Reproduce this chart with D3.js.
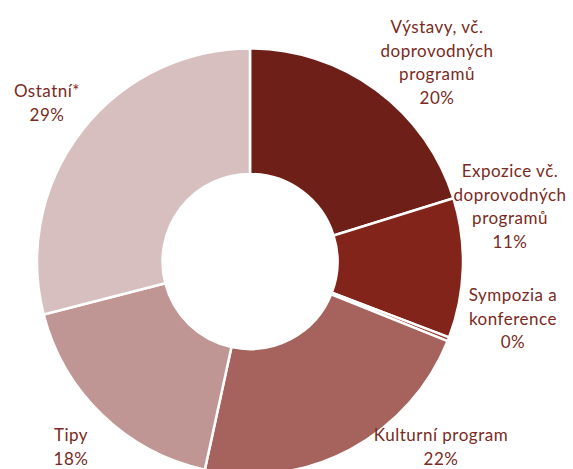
<!DOCTYPE html>
<html>
<head>
<meta charset="utf-8">
<script src="https://cdn.jsdelivr.net/npm/d3@7"></script>
<style>
  body { margin: 0; background: #fff; }
  .lbl { font-family: Lato, "Open Sans", sans-serif; font-size: 17px; fill: #7a2a22; letter-spacing: 0.5px; }
</style>
</head>
<body>
<svg id="chart"></svg>
<script>
// slices, clockwise from 12 o'clock
const categories = [
  ["Výstavy, vč.", "doprovodných", "programů"],
  ["Expozice vč.", "doprovodných", "programů"],
  ["Sympozia a", "konference"],
  ["Kulturní program"],
  ["Tipy"],
  ["Ostatní*"]
];
const values = [20.2, 10.6, 0.3, 22.3, 17.6, 29.0];
const colors = ["#6e1f17", "#82241a", "#9b3a33", "#a6625d", "#c09694", "#d8bfbf"];

// where Excel put each label block (centre x, first baseline)
const labelPos = [[437, 33], [510, 177], [513, 301], [441, 441], [71, 441], [47, 97]];

const width = 573, height = 469;
const cx = 250, cy = 261.5;
const outerR = 213, innerR = 87.5;
const lineH = 23.6;

const svg = d3.select("#chart")
  .attr("width", width)
  .attr("height", height);

const pie = d3.pie().sort(null).value(d => d);
const arc = d3.arc().innerRadius(innerR).outerRadius(outerR);
const total = d3.sum(values);

const g = svg.append("g")
  .attr("transform", "translate(" + cx + "," + cy + ")");

g.selectAll("path")
  .data(pie(values))
  .enter().append("path")
  .attr("d", arc)
  .attr("fill", (d, i) => colors[i])
  .attr("stroke", "#fff")
  .attr("stroke-width", 2.5);

const labels = svg.selectAll(".lbl")
  .data(categories)
  .enter().append("text")
  .attr("class", "lbl")
  .attr("text-anchor", "middle");

labels.each(function(lines, i) {
  const t = d3.select(this);
  const [x, y] = labelPos[i];
  const all = lines.concat([Math.round(values[i] / total * 100) + "%"]);
  all.forEach((s, k) => {
    t.append("tspan")
      .attr("x", x)
      .attr("y", y + k * lineH)
      .text(s);
  });
});
</script>
</body>
</html>
